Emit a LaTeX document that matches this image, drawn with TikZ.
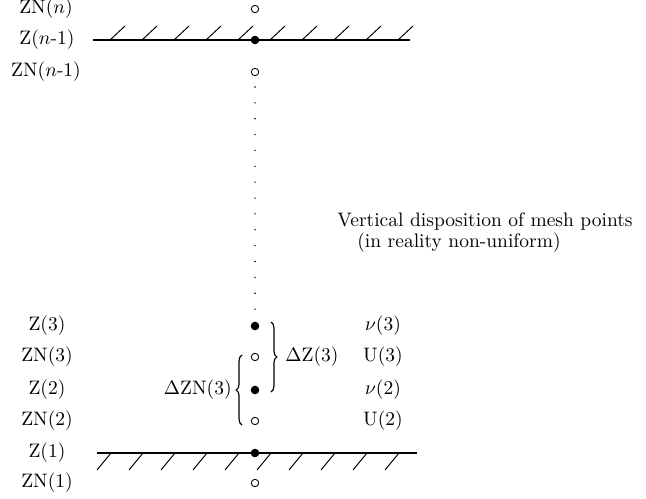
\documentclass[tikz,border=0pt]{standalone}
\usetikzlibrary{decorations.pathreplacing}
\begin{document}
\begin{tikzpicture}[x=0.5128pt,y=-0.5128pt,
  lab/.style={inner sep=0pt,anchor=center},
  opn/.style={circle,draw,inner sep=0pt,minimum size=3.8pt,line width=0.45pt},
  ful/.style={circle,fill,inner sep=0pt,minimum size=4.4pt},
  wall/.style={line width=0.6pt},
  hatch/.style={line width=0.5pt},
  brc/.style={decorate,decoration={brace,amplitude=3pt},line width=0.6pt},
  dotline/.style={line width=0.8pt,line cap=round,dash pattern=on 0pt off 8.135pt}]
\useasboundingbox (0,0) rectangle (646,499);

% left labels
\node[lab] (lznn)  at (46,9)   {ZN($n$)};
\node[lab] (lzn1)  at (47,40)  {Z($n$-1)};
\node[lab] (lznn1) at (46,72)  {ZN($n$-1)};
\node[lab] (lz3)   at (47,326) {Z(3)};
\node[lab] (lzn3)  at (47,357) {ZN(3)};
\node[lab] (lz2)   at (47,390) {Z(2)};
\node[lab] (lzn2)  at (47,421) {ZN(2)};
\node[lab] (lz1)   at (47,453) {Z(1)};
\node[lab] (lzn1b) at (47,483) {ZN(1)};

% mesh points
\node[opn] (pznn)  at (255,9)   {};
\node[ful] (pzn1)  at (255,40)  {};
\node[opn] (pznn1) at (255,72)  {};
\node[ful] (pz3)   at (255,326) {};
\node[opn] (pzn3)  at (255,357) {};
\node[ful] (pz2)   at (255,390) {};
\node[opn] (pzn2)  at (255,421) {};
\node[ful] (pz1)   at (255,453) {};
\node[opn] (pzn1b) at (255,483) {};

% dotted column
\coordinate (dtop) at (255,87);
\coordinate (dbot) at (255,309.5);
\draw[dotline] (dtop) -- (dbot);

% walls
\coordinate (wtl) at (93,40);
\coordinate (wtr) at (410,40);
\draw[wall] (wtl) -- (wtr);
\foreach \k in {0,...,9} \draw[hatch] (110+32*\k,40) -- ++(15,-14);
\coordinate (wbl) at (97,453);
\coordinate (wbr) at (417,453);
\draw[wall] (wbl) -- (wbr);
\foreach \k in {0,...,9} \draw[hatch] (97+32*\k,470) -- ++(14,-17);

% braces
\coordinate (rb1) at (271,322);
\coordinate (rb2) at (271,392);
\draw[brc] (rb1) -- (rb2);
\node[lab,anchor=west] (dz3) at (285,357) {$\Delta$Z(3)};
\coordinate (lb1) at (242,425);
\coordinate (lb2) at (242,355);
\draw[brc] (lb1) -- (lb2);
\node[lab,anchor=east] (dzn3) at (232,390) {$\Delta$ZN(3)};

% right labels
\node[lab] (rnu3) at (383,326) {$\nu$(3)};
\node[lab] (ru3)  at (383,357) {U(3)};
\node[lab] (rnu2) at (383,390) {$\nu$(2)};
\node[lab] (ru2)  at (383,421) {U(2)};

% caption
\node[lab] (cap1) at (485,222) {Vertical disposition of mesh points};
\node[lab] (cap2) at (459,243) {(in reality non-uniform)};
\end{tikzpicture}
\end{document}
